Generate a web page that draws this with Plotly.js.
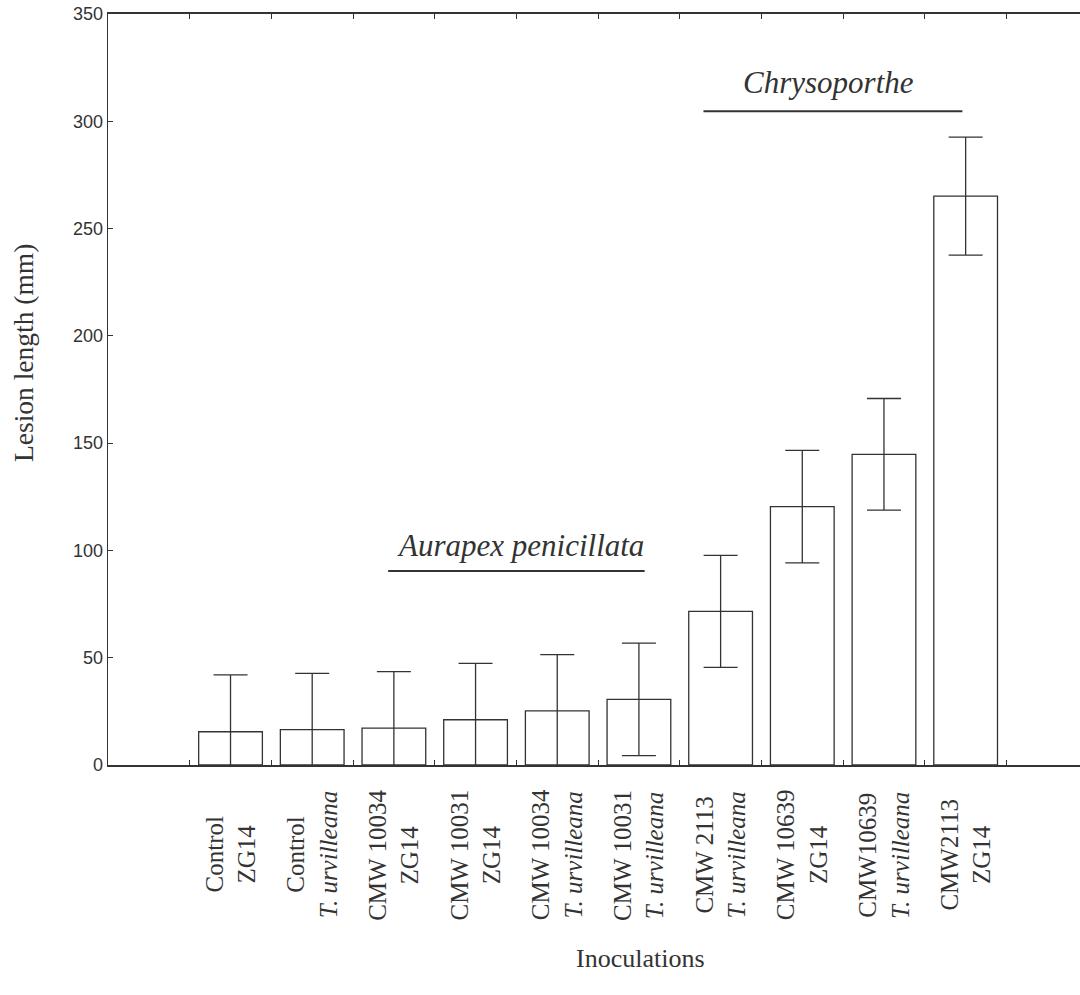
<!DOCTYPE html>
<html>
<head>
<meta charset="utf-8">
<script src="https://cdn.plot.ly/plotly-3.0.1.min.js"></script>
<style>html,body{margin:0;padding:0;background:#fff;}#chart{width:1080px;height:995px;}</style>
</head>
<body>
<div id="chart"></div>
<script>
// Data
const strainLabels = ["Control", "Control", "CMW 10034", "CMW 10031", "CMW 10034", "CMW 10031", "CMW 2113", "CMW 10639", "CMW10639", "CMW2113"];
const hostLabels = ["ZG14", "<i>T. urvilleana</i>", "ZG14", "ZG14", "<i>T. urvilleana</i>", "<i>T. urvilleana</i>", "<i>T. urvilleana</i>", "ZG14", "<i>T. urvilleana</i>", "ZG14"];
const lesionMeans = [15.5, 16.5, 17.2, 21.1, 25.2, 30.6, 71.6, 120.4, 144.8, 265.1];
const lesionErrors = [26.5, 26.2, 26.3, 26.3, 26.2, 26.2, 26.1, 26.2, 26.0, 27.5];
const yTicks = [0, 50, 100, 150, 200, 250, 300, 350];
const groupNames = ["<i>Aurapex penicillata</i>", "<i>Chrysoporthe</i>"];
const groupSpans = [[1.93, 5.07], [5.79, 8.96]];
const groupLineY = [90.4, 304.7];
const groupLabelX = [3.546, 7.32];
const groupLabelY = [102.5, 318.3];

const idx = lesionMeans.map((_, i) => i);
const ink = '#333333';
const serif = 'Liberation Serif, Times New Roman, serif';

const trace = {
  type: 'bar',
  x: idx,
  y: lesionMeans,
  width: 0.78,
  marker: {color: '#ffffff', line: {color: ink, width: 1.3}},
  error_y: {type: 'data', array: lesionErrors, visible: true, color: ink, thickness: 1.3, width: 17},
  hoverinfo: 'y',
  cliponaxis: true
};

const annotations = [];
idx.forEach(i => {
  annotations.push({
    x: i, xref: 'x', y: -0.1198, yref: 'paper',
    text: strainLabels[i] + '<br>' + hostLabels[i],
    textangle: -90, showarrow: false, align: 'center',
    xanchor: 'center', yanchor: 'middle',
    font: {family: serif, size: 25, color: ink}
  });
});
groupNames.forEach((g, k) => {
  annotations.push({
    x: groupLabelX[k], xref: 'x', y: groupLabelY[k], yref: 'y',
    text: g, showarrow: false, xanchor: 'center', yanchor: 'middle',
    font: {family: serif, size: 31, color: ink}
  });
});
annotations.push({
  x: -0.0874, xref: 'paper', y: 0.5486, yref: 'paper',
  text: 'Lesion length (mm)', textangle: -90, showarrow: false,
  xanchor: 'center', yanchor: 'middle',
  font: {family: serif, size: 27.5, color: ink}
});
annotations.push({
  x: 0.548, xref: 'paper', y: -0.257, yref: 'paper',
  text: 'Inoculations', showarrow: false,
  xanchor: 'center', yanchor: 'middle',
  font: {family: serif, size: 26, color: ink}
});

const shapes = groupSpans.map((s, k) => ({
  type: 'line', xref: 'x', yref: 'y',
  x0: s[0], x1: s[1], y0: groupLineY[k], y1: groupLineY[k],
  line: {color: ink, width: 2}
}));

const layout = {
  width: 1080, height: 995,
  margin: {l: 108, r: 0, t: 14, b: 230},
  paper_bgcolor: '#ffffff', plot_bgcolor: '#ffffff',
  showlegend: false,
  xaxis: {
    range: [-1.5, 10.4],
    tickmode: 'linear', tick0: -0.5, dtick: 1,
    ticks: 'inside', ticklen: 5, tickwidth: 1, tickcolor: ink,
    showticklabels: false,
    showgrid: false, zeroline: false,
    showline: true, linecolor: ink, linewidth: 1.8,
    mirror: 'ticks'
  },
  yaxis: {
    range: [0, 350],
    tickmode: 'array', tickvals: yTicks,
    ticks: 'inside', ticklen: 5, tickwidth: 1, tickcolor: ink,
    tickfont: {family: 'Liberation Sans, Arial, sans-serif', size: 18, color: ink},
    showgrid: false, zeroline: false,
    showline: true, linecolor: ink, linewidth: 1.3
  },
  annotations: annotations,
  shapes: shapes
};

Plotly.newPlot('chart', [trace], layout, {displayModeBar: false, staticPlot: true});
</script>
</body>
</html>
